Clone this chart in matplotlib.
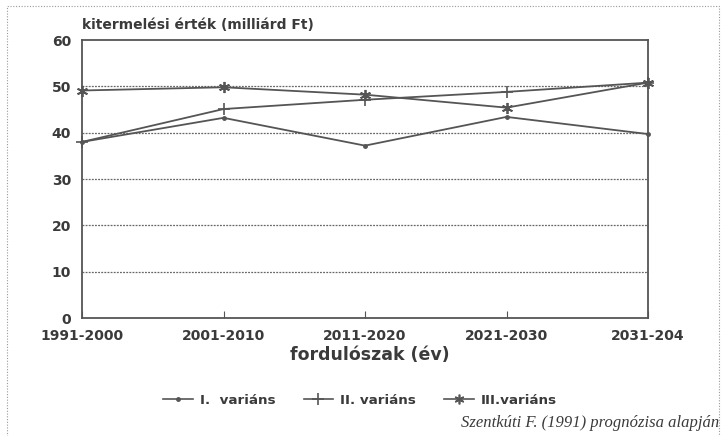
import matplotlib.pyplot as plt
from matplotlib.patches import Rectangle
from matplotlib.lines import Line2D

# adatok
idoszakok = ['1991-2000', '2001-2010', '2011-2020', '2021-2030', '2031-204']
variant_1 = [38.0, 43.2, 37.2, 43.4, 39.7]
variant_2 = [38.0, 45.1, 47.1, 48.8, 50.8]
variant_3 = [49.1, 49.8, 48.2, 45.4, 50.8]
nevek = ['I.  variáns', 'II. variáns', 'III.variáns']

szurke = '#555555'
szoveg = '#3a3a3a'
plt.rcParams['font.family'] = ['DejaVu Sans']

fig = plt.figure(figsize=(7.28, 4.36), dpi=100)
ax = fig.add_axes([82/728, 1-318/436, (648-82)/728, (318-40)/436])

x = list(range(len(idoszakok)))
ax.plot(x, variant_1, color=szurke, lw=1.3, marker='o', ms=2.5, label=nevek[0])
ax.plot(x, variant_2, color=szurke, lw=1.3, marker='+', ms=8, mew=1.2, label=nevek[1])
ax.plot(x, variant_3, color=szurke, lw=1.3, marker=(6, 2, 0), ms=8, mew=1.3, label=nevek[2])

for v in [10, 20, 30, 40, 50]:
    ax.axhline(v, color='#666666', lw=0.9, ls=(0, (1.5, 1)), zorder=0)

ax.set_xlim(0, 4)
ax.set_ylim(0, 60)
ax.set_yticks(range(0, 61, 10))
ax.set_xticks(x)
ax.set_xticklabels(idoszakok)
ax.tick_params(axis='y', length=0, pad=8, labelsize=10, labelcolor=szoveg)
ax.tick_params(axis='x', direction='in', length=5, color=szurke, pad=8,
               labelsize=10, labelcolor=szoveg)
for lab in ax.get_xticklabels() + ax.get_yticklabels():
    lab.set_fontweight('bold')
for s in ax.spines.values():
    s.set_color(szurke)
    s.set_linewidth(1.3)
for ln in ax.lines:
    ln.set_clip_on(False)

ax.text(0, 1.03, 'kitermelési érték (milliárd Ft)', transform=ax.transAxes,
        fontsize=10, fontweight='bold', color=szoveg, ha='left', va='bottom')
fig.text(370/728, 1-355/436, 'fordulószak (év)', fontsize=12.5, fontweight='bold',
         color=szoveg, ha='center', va='center')

h = [Line2D([], [], color=szurke, lw=1.2, marker='o', ms=2.5),
     Line2D([], [], color=szurke, lw=1.2, marker='+', ms=8, mew=1.2),
     Line2D([], [], color=szurke, lw=1.2, marker=(6, 2, 0), ms=7, mew=1.2)]
leg = fig.legend(h, nevek, loc='center', bbox_to_anchor=(360/728, 1-400/436), ncol=3,
                 frameon=False, handlelength=2.2, handletextpad=0.5, columnspacing=2.1,
                 prop={'weight': 'bold', 'size': 9.7})
for t in leg.get_texts():
    t.set_color(szoveg)

fig.text(719/728, 1-423/436, 'Szentkúti F. (1991) prognózisa alapján',
         family='Liberation Serif', style='italic', fontsize=12, color=szoveg,
         ha='right', va='center')

fig.patches.append(Rectangle((7/728, -0.05), (719-7)/728, 1.05-6/436,
                             transform=fig.transFigure, fill=False,
                             ec='#999999', lw=0.8, ls=(0, (1, 1.5))))

plt.savefig('out.png', dpi=100)
